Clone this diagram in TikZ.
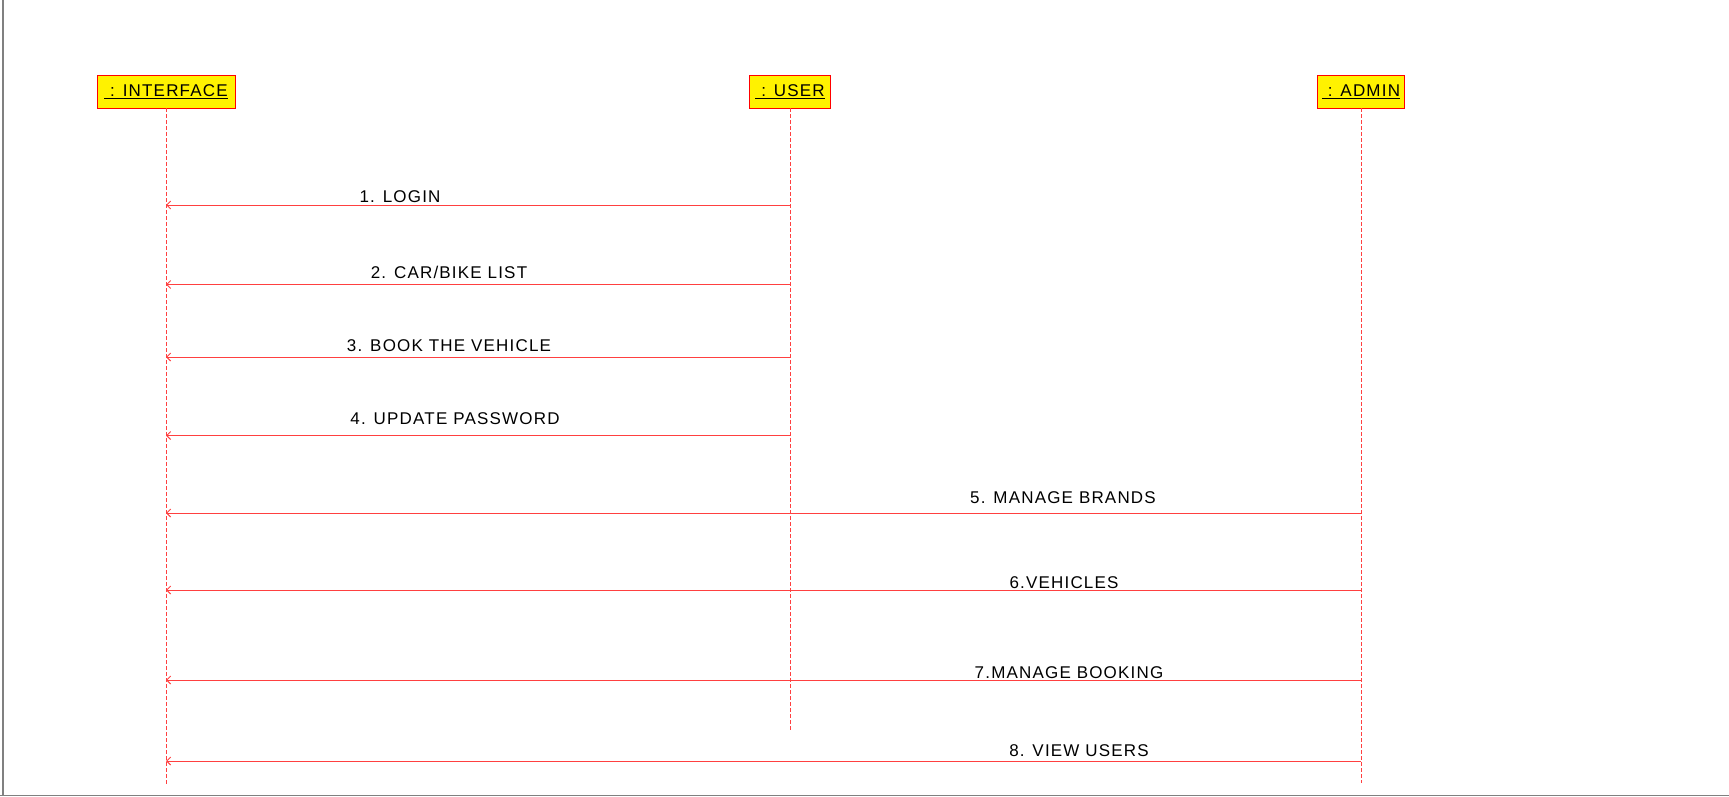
\documentclass[tikz,border=0pt]{standalone}
\usepackage{fontspec}
\setmainfont{Liberation Sans}[LetterSpace=7]
\usetikzlibrary{arrows.meta}

\tikzset{
  objbox/.style={draw=red,fill=yellow,line width=0.8pt,minimum height=33pt,inner sep=2pt,font=\fontsize{17}{20}\selectfont},
  lifeline/.style={draw=red!75,line width=1pt,dash pattern=on 4pt off 2pt},
  msg/.style={draw=red!75,line width=1pt,-{Straight Barb[length=4pt,width=8pt]}},
  msglabel/.style={anchor=base,inner sep=0pt,font=\fontsize{17}{20}\selectfont}
}

\begin{document}
\begin{tikzpicture}[x=1pt,y=-1pt]
\useasboundingbox (0,0) rectangle (1729,797);

% frame
\draw[gray,line width=1.5pt] (3,0) -- (3,795.5);
\draw[gray,line width=1.5pt] (0,795.5) -- (1729,795.5);

% objects
\node (iface) at (166,91.5)[objbox,minimum width=138pt]{\underline{\ : INTERFACE}};
\node (user) at (790,91.5)[objbox,minimum width=81pt]{\underline{\ : USER}};
\node (admin) at (1361,91.5)[objbox,minimum width=87pt]{\underline{\ : ADMIN}};

% lifelines
\coordinate (ifaceend) at (166,784);
\coordinate (userend) at (790,732);
\coordinate (adminend) at (1361,783);
\draw[lifeline] (iface.south) -- (ifaceend);
\draw[lifeline] (user.south) -- (userend);
\draw[lifeline] (admin.south) -- (adminend);

% messages user -> interface
\coordinate (u1) at (790,205);   \coordinate (i1) at (166,205);
\coordinate (u2) at (790,284.5); \coordinate (i2) at (166,284.5);
\coordinate (u3) at (790,357);   \coordinate (i3) at (166,357);
\coordinate (u4) at (790,435.5); \coordinate (i4) at (166,435.5);
\draw[msg] (u1) -- (i1);
\draw[msg] (u2) -- (i2);
\draw[msg] (u3) -- (i3);
\draw[msg] (u4) -- (i4);
\node (m1) at (400,202)[msglabel]{1. LOGIN};
\node (m2) at (449,278.5)[msglabel]{2. CAR/BIKE LIST};
\node (m3) at (449,351.5)[msglabel]{3. BOOK THE VEHICLE};
\node (m4) at (455,424.5)[msglabel]{4. UPDATE PASSWORD};

% messages admin -> interface
\coordinate (a5) at (1361,513);   \coordinate (i5) at (166,513);
\coordinate (a6) at (1361,590);   \coordinate (i6) at (166,590);
\coordinate (a7) at (1361,680);   \coordinate (i7) at (166,680);
\coordinate (a8) at (1361,761);   \coordinate (i8) at (166,761);
\draw[msg] (a5) -- (i5);
\draw[msg] (a6) -- (i6);
\draw[msg] (a7) -- (i7);
\draw[msg] (a8) -- (i8);
\node (m5) at (1063,503.5)[msglabel]{5. MANAGE BRANDS};
\node (m6) at (1064,588.5)[msglabel]{6.VEHICLES};
\node (m7) at (1069,678)[msglabel]{7.MANAGE BOOKING};
\node (m8) at (1079,756.5)[msglabel]{8. VIEW USERS};
\end{tikzpicture}
\end{document}
